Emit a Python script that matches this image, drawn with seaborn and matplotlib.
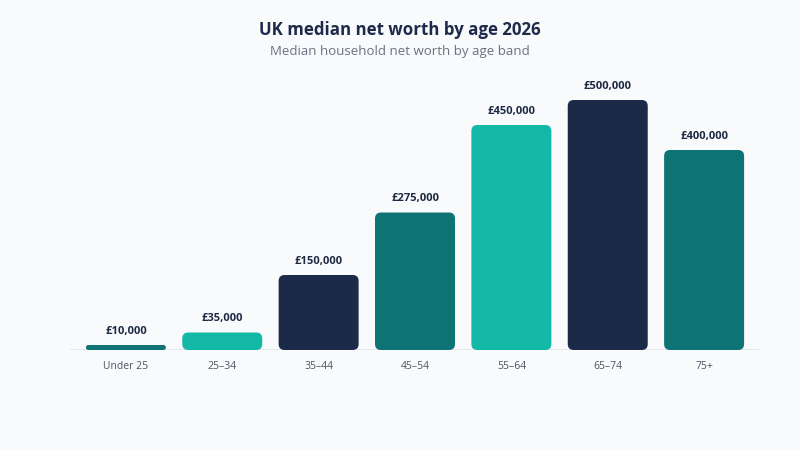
import matplotlib
matplotlib.use("Agg")
import matplotlib.pyplot as plt
import seaborn as sns
import pandas as pd
from matplotlib.patches import FancyBboxPatch

categories = ["Under 25", "25–34", "35–44", "45–54", "55–64", "65–74", "75+"]
values = [10000, 35000, 150000, 275000, 450000, 500000, 400000]
labels = ["£10,000", "£35,000", "£150,000", "£275,000", "£450,000", "£500,000", "£400,000"]
title = "UK median net worth by age 2026"
subtitle = "Median household net worth by age band"

DARK_TEAL = "#0e7374"
TEAL = "#14b8a6"
NAVY = "#1c2a4a"
palette = [DARK_TEAL, TEAL, NAVY, DARK_TEAL, TEAL, NAVY, DARK_TEAL]
BG = "#f8fafc"

sns.set_theme(style="white")
plt.rcParams["font.family"] = ["Open Sans", "DejaVu Sans"]

df = pd.DataFrame({"age": categories, "value": values})

fig = plt.figure(figsize=(8, 4.5), dpi=100, facecolor=BG)
ax = fig.add_axes([70 / 800, 100 / 450, 690 / 800, 280 / 450])
ax.set_facecolor(BG)

sns.barplot(data=df, x="age", y="value", hue="age", palette=palette,
            legend=False, width=0.83, ax=ax, saturation=1)

ax.set_xlim(-0.58, 6.58)
ax.set_ylim(0, 560000)

xu_per_px = (6.58 + 0.58) / 690
yu_per_px = 560000 / 280
aspect = yu_per_px / xu_per_px

patches = list(ax.patches)
for p in patches:
    x0, y0 = p.get_x(), p.get_y()
    w, h = p.get_width(), p.get_height()
    color = p.get_facecolor()
    p.remove()
    h_px = h / yu_per_px
    r_px = min(6, h_px / 2)
    fb = FancyBboxPatch((x0, y0), w, h,
                        boxstyle=f"round,pad=0,rounding_size={r_px * xu_per_px}",
                        mutation_aspect=aspect, facecolor=color,
                        edgecolor="none", zorder=3)
    ax.add_patch(fb)

for i, (v, lab) in enumerate(zip(values, labels)):
    ax.annotate(lab, (i, v), xytext=(0, 6), textcoords="offset points",
                ha="center", va="bottom", fontsize=8, fontweight="bold",
                color="#1e2a44")

ax.axhline(0, color="#e2e8f0", lw=1.5, zorder=2)

for s in ax.spines.values():
    s.set_visible(False)
ax.set_yticks([])
ax.set_xlabel("")
ax.set_ylabel("")
ax.tick_params(axis="x", length=0, pad=8, labelsize=7.5, labelcolor="#4b5563")

fig.text(0.5, 1 - 30 / 450, title, ha="center", va="center", fontsize=12.2,
         fontweight="bold", color="#1e2a4a")
fig.text(0.5, 1 - 51 / 450, subtitle, ha="center", va="center", fontsize=9.5,
         color="#6b7280")

fig.savefig("out.png", dpi=100, facecolor=BG)
